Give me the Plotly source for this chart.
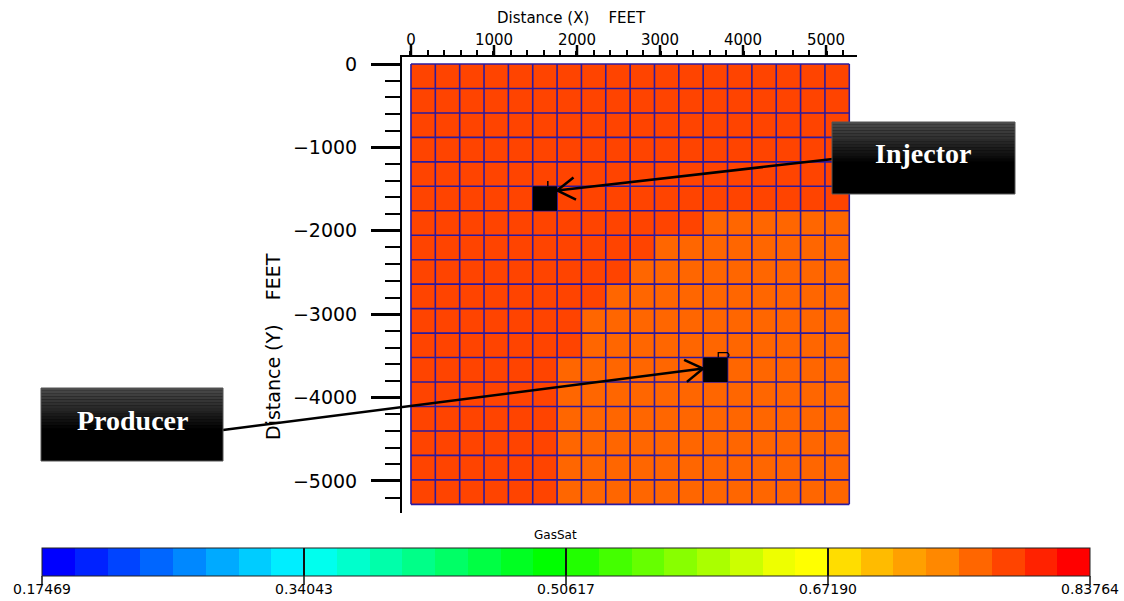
import math
import plotly.graph_objects as go

# ---------------- data ----------------
N_CELLS = 18
GRID_SIZE_FT = 5280.0
# gas saturation map, row 0 = top (Y = 0), R = high (~0.785), O = lower (~0.765)
GRID_ROWS = [
    "RRRRRRRRRRRRRRRRRR",
    "RRRRRRRRRRRRRRRRRR",
    "RRRRRRRRRRRRRRRRRR",
    "RRRRRRRRRRRRRRRRRR",
    "RRRRRRRRRRRRRRRRRR",
    "RRRRRRRRRRRRRRRRRR",
    "RRRRRRRRRRRROOOOOO",
    "RRRRRRRRRROOOOOOOO",
    "RRRRRRRRROOOOOOOOO",
    "RRRRRRRROOOOOOOOOO",
    "RRRRRRROOOOOOOOOOO",
    "RRRRRRROOOOOOOOOOO",
    "RRRRRROOOOOOOOOOOO",
    "RRRRRROOOOOOOOOOOO",
    "RRRRRROOOOOOOOOOOO",
    "RRRRRROOOOOOOOOOOO",
    "RRRRRROOOOOOOOOOOO",
    "RRRRRROOOOOOOOOOOO",
]
SAT_VALUES = {"R": 0.785, "O": 0.765}
INJECTOR_CELL = (5, 5)    # (col, row)
PRODUCER_CELL = (12, 12)  # (col, row)

CBAR_MIN = 0.17469
CBAR_MAX = 0.83764
CBAR_TICKS = [0.17469, 0.34043, 0.50617, 0.67190, 0.83764]
CBAR_TICKTEXT = ["0.17469", "0.34043", "0.50617", "0.67190", "0.83764"]
BAND_COLORS = [
    "#0000ff", "#0022ff", "#0044ff", "#0066ff", "#0088ff", "#00aaff", "#00ccff", "#00eeff",
    "#00ffee", "#00ffcc", "#00ffaa", "#00ff88", "#00ff66", "#00ff44", "#00ff22", "#00ff00",
    "#22ff00", "#44ff00", "#66ff00", "#88ff00", "#aaff00", "#ccff00", "#eeff00", "#ffff00",
    "#ffdd00", "#ffbb00", "#ffa000", "#ff8800", "#ff6600", "#ff4400", "#ff2200", "#ff0000",
]
X_TICKS = [0, 1000, 2000, 3000, 4000, 5000]
Y_TICKS = [0, -1000, -2000, -3000, -4000, -5000]

# ---------------- layout geometry ----------------
W_FIG, H_FIG = 1124, 601
L, T, W, H = 402, 57, 455, 456
XR = [-108, 5373]
YR = [-5384, 84]
CB_X0, CB_X1, CB_TOP, CB_BOT = 42, 1090, 548, 576

cell = GRID_SIZE_FT / N_CELLS
xc = [(i + 0.5) * cell for i in range(N_CELLS)]
yc = [-(j + 0.5) * cell for j in range(N_CELLS)]
z = [[SAT_VALUES[ch] for ch in row] for row in GRID_ROWS]

nb = len(BAND_COLORS)
colorscale = []
for k, c in enumerate(BAND_COLORS):
    colorscale.append([k / nb, c])
    colorscale.append([(k + 1) / nb, c])


def data2px(x, y):
    return (L + (x - XR[0]) / (XR[1] - XR[0]) * W,
            T + (YR[1] - y) / (YR[1] - YR[0]) * H)


def px2paper(px, py):
    return ((px - L) / W, (T + H - py) / H)


fig = go.Figure()

fig.add_trace(go.Heatmap(
    x=xc, y=yc, z=z,
    zmin=CBAR_MIN, zmax=CBAR_MAX,
    colorscale=colorscale,
    hoverinfo="skip",
    colorbar=dict(
        orientation="h",
        lenmode="pixels", len=CB_X1 - CB_X0,
        thicknessmode="pixels", thickness=CB_BOT - CB_TOP,
        x=px2paper((CB_X0 + CB_X1) / 2, 0)[0], xanchor="center",
        y=px2paper(0, CB_TOP)[1], yanchor="top",
        xpad=0, ypad=0,
        outlinecolor="#222222", outlinewidth=1,
        tickmode="array", tickvals=CBAR_TICKS, ticktext=CBAR_TICKTEXT,
        ticks="inside", ticklen=CB_BOT - CB_TOP, tickwidth=1.5, tickcolor="#111111",
        tickfont=dict(family="DejaVu Sans", size=14, color="black"),
    ),
))

# grid lines
gx, gy = [], []
for k in range(N_CELLS + 1):
    gx += [k * cell, k * cell, None]
    gy += [0, -GRID_SIZE_FT, None]
    gx += [0, GRID_SIZE_FT, None]
    gy += [-k * cell, -k * cell, None]
fig.add_trace(go.Scatter(x=gx, y=gy, mode="lines",
                         line=dict(color="#2c1a9e", width=1.6),
                         hoverinfo="skip", showlegend=False))

shapes = []
# long major ticks on the top axis (labels sit close to the axis, over the ticks)
for tv in X_TICKS:
    px, _ = data2px(tv, 0)
    p0 = px2paper(px, T)
    p1 = px2paper(px, T - 12)
    shapes.append(dict(type="line", xref="paper", yref="paper",
                       x0=p0[0], x1=p1[0], y0=p0[1], y1=p1[1],
                       line=dict(color="black", width=2.5)))
# colour bar tick extensions below the bar
for tv in CBAR_TICKS:
    px = CB_X0 + (tv - CBAR_MIN) / (CBAR_MAX - CBAR_MIN) * (CB_X1 - CB_X0)
    p0 = px2paper(px, CB_BOT)
    p1 = px2paper(px, CB_BOT + 9)
    shapes.append(dict(type="line", xref="paper", yref="paper",
                       x0=p0[0], x1=p1[0], y0=p0[1], y1=p1[1],
                       line=dict(color="#111111", width=1.5)))

# wells
for (ci, rj) in (INJECTOR_CELL, PRODUCER_CELL):
    shapes.append(dict(type="rect", xref="x", yref="y",
                       x0=ci * cell, x1=(ci + 1) * cell,
                       y0=-rj * cell, y1=-(rj + 1) * cell,
                       fillcolor="black", line=dict(width=0)))
# injector well symbol (small stem)
ci, rj = INJECTOR_CELL
shapes.append(dict(type="line", xref="x", yref="y",
                   x0=(ci + 0.62) * cell, x1=(ci + 0.62) * cell,
                   y0=-rj * cell, y1=-rj * cell + 0.22 * cell,
                   line=dict(color="black", width=1.5)))
# producer well symbol (small flag)
ci, rj = PRODUCER_CELL
shapes.append(dict(type="path", xref="x", yref="y",
                   path=(f"M {(ci + 0.62) * cell},{-rj * cell} "
                         f"L {(ci + 0.62) * cell},{-rj * cell + 0.2 * cell} "
                         f"L {(ci + 1.0) * cell},{-rj * cell + 0.2 * cell} "
                         f"Q {(ci + 1.12) * cell},{-rj * cell + 0.1 * cell} {(ci + 1.0) * cell},{-rj * cell}"),
                   line=dict(color="black", width=1.3)))


def add_box(x0, y0, x1, y1):
    # gradient box (dark grey top fading to black)
    nstrip = 14
    grad_h = (y1 - y0) * 0.55
    shapes.append(dict(type="rect", xref="paper", yref="paper",
                       x0=px2paper(x0, 0)[0], x1=px2paper(x1, 0)[0],
                       y0=px2paper(0, y1)[1], y1=px2paper(0, y0)[1],
                       fillcolor="black", line=dict(width=0)))
    for s in range(nstrip):
        g = int(round(0x4a * (1 - s / nstrip)))
        col = f"#{g:02x}{g:02x}{g:02x}"
        ya = y0 + grad_h * s / nstrip
        yb = y0 + grad_h * (s + 1) / nstrip
        shapes.append(dict(type="rect", xref="paper", yref="paper",
                           x0=px2paper(x0, 0)[0], x1=px2paper(x1, 0)[0],
                           y0=px2paper(0, yb)[1], y1=px2paper(0, ya)[1],
                           fillcolor=col, line=dict(width=0)))
    shapes.append(dict(type="rect", xref="paper", yref="paper",
                       x0=px2paper(x0, 0)[0], x1=px2paper(x1, 0)[0],
                       y0=px2paper(0, y1)[1], y1=px2paper(0, y0)[1],
                       fillcolor="rgba(0,0,0,0)", line=dict(color="#555555", width=1)))


def add_arrow(tail_px, tip_px):
    tx, ty = tail_px
    hx, hy = tip_px
    p0 = px2paper(tx, ty)
    p1 = px2paper(hx, hy)
    shapes.append(dict(type="line", xref="paper", yref="paper",
                       x0=p0[0], y0=p0[1], x1=p1[0], y1=p1[1],
                       line=dict(color="black", width=2.5)))
    ang = math.atan2(ty - hy, tx - hx)
    for d in (math.radians(32), -math.radians(32)):
        ex = hx + 21 * math.cos(ang + d)
        ey = hy + 21 * math.sin(ang + d)
        pe = px2paper(ex, ey)
        shapes.append(dict(type="line", xref="paper", yref="paper",
                           x0=p1[0], y0=p1[1], x1=pe[0], y1=pe[1],
                           line=dict(color="black", width=2.5)))


# arrows (tips at the well cells)
ci, rj = INJECTOR_CELL
inj_tip = data2px((ci + 1) * cell, -(rj + 0.17) * cell)
add_arrow((833, 159), inj_tip)
ci, rj = PRODUCER_CELL
prod_tip = data2px(ci * cell, -(rj + 0.45) * cell)
add_arrow((223, 430), prod_tip)

add_box(832, 122, 1015, 194)
add_box(41, 388, 223, 461)

annotations = []


def add_text(px, py, text, size, family, color="black", bold=False, angle=0):
    x, y = px2paper(px, py)
    annotations.append(dict(xref="paper", yref="paper", x=x, y=y,
                            xanchor="center", yanchor="middle",
                            text=f"<b>{text}</b>" if bold else text,
                            showarrow=False, textangle=angle,
                            font=dict(family=family, size=size, color=color)))


SP = "\u00a0" * 4
add_text(923, 153, "Injector", 28, "Liberation Serif", "white", True)
add_text(132, 420, "Producer", 28, "Liberation Serif", "white", True)
add_text(571, 18, f"Distance (X){SP}FEET", 15, "DejaVu Sans")
add_text(273, 347, f"Distance (Y){SP}FEET", 19, "DejaVu Sans", angle=-90)
add_text(555, 535, "GasSat", 12, "DejaVu Sans")

fig.update_layout(
    width=W_FIG, height=H_FIG,
    margin=dict(l=L, r=W_FIG - L - W, t=T, b=H_FIG - T - H, pad=0, autoexpand=False),
    paper_bgcolor="white", plot_bgcolor="white",
    showlegend=False,
    shapes=shapes,
    annotations=annotations,
    xaxis=dict(side="top", range=XR, showgrid=False, zeroline=False,
               showline=True, linecolor="black", linewidth=2,
               tickmode="array", tickvals=X_TICKS,
               ticks="outside", ticklen=4, tickwidth=2.5, tickcolor="black",
               minor=dict(ticks="outside", ticklen=5, tickwidth=1.5, tickcolor="black",
                          dtick=200, tick0=0, showgrid=False),
               tickfont=dict(family="DejaVu Sans", size=15, color="black")),
    yaxis=dict(range=YR, showgrid=False, zeroline=False,
               showline=True, linecolor="black", linewidth=2,
               tickmode="array", tickvals=Y_TICKS,
               ticks="outside", ticklen=29, tickwidth=3, tickcolor="black",
               minor=dict(ticks="outside", ticklen=15, tickwidth=2, tickcolor="black",
                          dtick=200, tick0=0, showgrid=False),
               ticklabelstandoff=10,
               tickfont=dict(family="DejaVu Sans", size=19, color="black")),
)

fig.write_html("out.html", post_script="document.body.style.margin='0';",
               config={"displayModeBar": False})
